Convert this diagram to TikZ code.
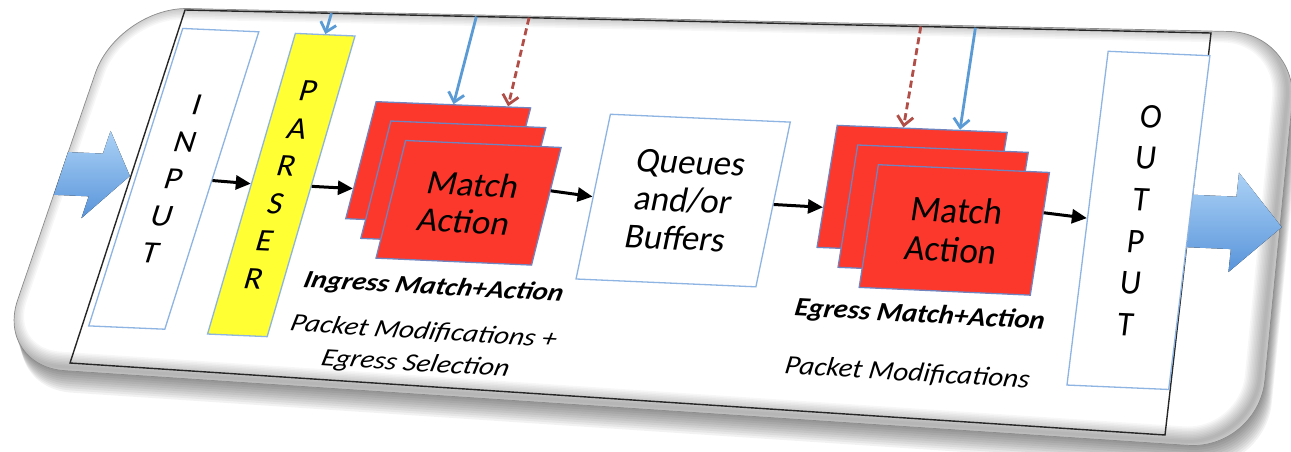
\documentclass[tikz,border=0pt]{standalone}
\usepackage{fontspec}
\setmainfont{Carlito}
\usetikzlibrary{arrows.meta, calc}

\definecolor{boxblue}{RGB}{141,180,226}
\definecolor{parseyellow}{RGB}{255,255,51}
\definecolor{mared}{RGB}{252,56,45}
\definecolor{maedge}{RGB}{112,132,192}
\definecolor{ctrlblue}{RGB}{91,155,213}
\definecolor{ctrlred}{RGB}{178,78,72}
\definecolor{bigtop}{RGB}{172,210,246}
\definecolor{bigbot}{RGB}{88,148,218}

\newcommand\letterfont{\fontsize{32}{38.5}\selectfont}
\newcommand\boxfont{\fontsize{34}{37}\selectfont}
\newcommand\notefont{\fontsize{25}{32}\selectfont}
\newcommand\cardpath{(118,7) -- (1299,33) -- (1258,450) -- (-5,366) -- cycle}

% flat layout (u,v) -> tilted card
\tikzset{
  pp/.code 2 args={%
    \pgfmathsetmacro\ppu{(#1)/1030}%
    \pgfmathsetmacro\ppv{(#2)/370}%
    \pgfmathsetmacro\ppx{185+1026*\ppu-115*\ppv+69*\ppu*\ppv}%
    \pgfmathsetmacro\ppy{10+23*\ppu+353*\ppv+49*\ppu*\ppv}%
    \pgfmathsetmacro\ppa{(1026+69*\ppv)/1030}%
    \pgfmathsetmacro\ppb{-(23+49*\ppv)/1030}%
    \pgfmathsetmacro\ppc{(115-69*\ppu)/370}%
    \pgfmathsetmacro\ppd{(353+49*\ppu)/370}%
    \pgfkeysalso{cm={\ppa,\ppb,\ppc,\ppd,(\ppx,\ppy)}}%
  }
}
\newcommand\uvpt[3]{\path[pp={#2}{#3}] (0,0) coordinate (#1);}

\begin{document}
\begin{tikzpicture}[x=1pt, y=-1pt]
        % styles
        \tikzstyle{iobox} = [draw=boxblue, fill=white, line width=1.3pt, transform shape, inner sep=0pt, align=center, font=\letterfont]
        \tikzstyle{parsebox} = [iobox, fill=parseyellow]
        \tikzstyle{mabox} = [iobox, draw=maedge, fill=mared, font=\boxfont, minimum width=151pt, minimum height=118pt]
        \tikzstyle{mebox} = [mabox, minimum width=166pt, minimum height=116pt]
        \tikzstyle{note} = [transform shape, xscale=1.1, align=center, font=\notefont]
        \tikzstyle{flow} = [draw=black, line width=3pt, -{Triangle[length=15pt,width=14pt]}]
        \tikzstyle{ctrl} = [draw=ctrlblue, line width=2.8pt, -{Straight Barb[length=9pt,width=16pt]}]
        \tikzstyle{ctrlx} = [ctrl, draw=ctrlred, dash pattern=on 7pt off 4pt]
        \tikzstyle{bigarrow} = [top color=bigtop, bottom color=bigbot, draw=none]

        \useasboundingbox (0,0) rectangle (1291,451);

        % card with shadow and rim
        \foreach \i in {1,...,10}
            \fill[black, opacity=0.05, rounded corners=70pt, shift={(0.7*\i,2.2*\i)}] \cardpath;
        \fill[white, rounded corners=70pt] \cardpath;
        \begin{scope}
            \clip[rounded corners=70pt] \cardpath;
            \foreach \w in {3,6,...,30}
                \draw[black, opacity=0.03, line width=\w pt, rounded corners=70pt, shift={(-5,-4)}] \cardpath;
        \end{scope}
        \draw[black!45, line width=0.7pt, rounded corners=70pt] \cardpath;
        \draw[black!85, line width=1.4pt] (185,10) -- (1211,33) -- (1165,435) -- (70,363) -- cycle;

        % big in/out arrows
        \begin{scope}[pp={-34}{174}]
            \fill[bigarrow] (-34,-22) -- (0,-22) -- (0,-46) -- (33,0) -- (0,46) -- (0,23) -- (-34,23) -- cycle;
        \end{scope}
        \begin{scope}[pp={1075}{174}]
            \fill[bigarrow] (-45,-25) -- (-2,-25) -- (-2,-47) -- (45,1) -- (-2,44) -- (-2,23) -- (-45,23) -- cycle;
        \end{scope}

        % blocks
        \begin{scope}[pp={42}{175}]
            \node[iobox, minimum width=74pt, minimum height=310pt] (input) {I\\N\\P\\U\\T};
        \end{scope}
        \begin{scope}[pp={147}{176.5}]
            \node[parsebox, minimum width=58pt, minimum height=309pt] (parser) {P\\A\\R\\S\\E\\R};
        \end{scope}
        \begin{scope}[pp={292.5}{148}]
            \node[mabox] (mi3) {};
        \end{scope}
        \begin{scope}[pp={312}{167}]
            \node[mabox] (mi2) {};
        \end{scope}
        \begin{scope}[pp={331.5}{186}]
            \node[mabox] (mi1) {Match\\Action};
        \end{scope}
        \begin{scope}[pp={537.5}{174.5}]
            \node[iobox, font=\boxfont, minimum width=175pt, minimum height=161pt] (queues) {Queues\\and/or\\Buffers};
        \end{scope}
        \begin{scope}[pp={757}{155}]
            \node[mebox] (me3) {};
        \end{scope}
        \begin{scope}[pp={780.5}{173}]
            \node[mebox] (me2) {};
        \end{scope}
        \begin{scope}[pp={804}{191}]
            \node[mebox] (me1) {Match\\Action};
        \end{scope}
        \begin{scope}[pp={980.5}{174.5}]
            \node[iobox, minimum width=99pt, minimum height=309pt] (output) {O\\U\\T\\P\\U\\T};
        \end{scope}

        % labels
        \begin{scope}[pp={318.7}{272}]
            \node[note, font=\notefont\bfseries\itshape] (ilbl) {Ingress Match+Action};
        \end{scope}
        \begin{scope}[pp={320}{333}]
            \node[note, font=\notefont\itshape] (imod) {Packet Modifications +\\Egress Selection};
        \end{scope}
        \begin{scope}[pp={784}{273}]
            \node[note, font=\notefont\bfseries\itshape] (elbl) {Egress Match+Action};
        \end{scope}
        \begin{scope}[pp={781}{328}]
            \node[note, font=\notefont\itshape] (emod) {Packet Modifications};
        \end{scope}

        % control inputs from the top
        \uvpt{ptop}{147}{0}
        \uvpt{itop1}{292.5}{0}
        \uvpt{itop2}{345.4}{0}
        \uvpt{etop1}{738.7}{0}
        \uvpt{etop2}{793.5}{0}

        % connectors
        \draw[flow] (input.east) -- (parser.west);
        \draw[flow] (parser.east) -- ($(mi3.north west)!0.74!(mi3.south west)$);
        \draw[flow] ($(mi1.north east)!0.37!(mi1.south east)$) -- (queues.west);
        \draw[flow] (queues.east) -- ($(me3.north west)!0.67!(me3.south west)$);
        \draw[flow] ($(me1.north east)!0.33!(me1.south east)$) -- (output.west);
        \draw[ctrl] (ptop) -- (parser.north);
        \draw[ctrl] (itop1) -- (mi3.north);
        \draw[ctrlx] (itop2) -- ($(mi3.north west)!0.85!(mi3.north east)$);
        \draw[ctrlx] (etop1) -- ($(me3.north west)!0.39!(me3.north east)$);
        \draw[ctrl] (etop2) -- ($(me3.north west)!0.72!(me3.north east)$);
    \end{tikzpicture}
\end{document}
